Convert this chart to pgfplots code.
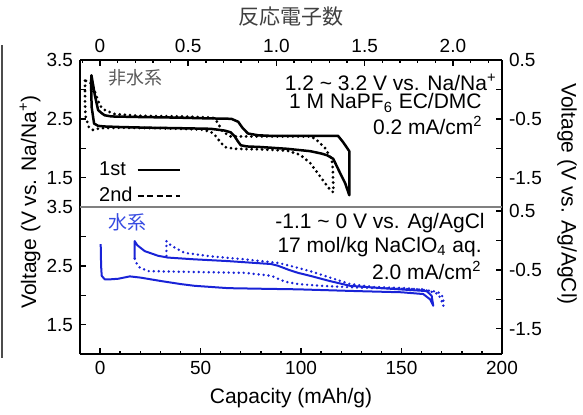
\documentclass[border=0pt]{standalone}
\usepackage{fontspec}
\setmainfont{Liberation Sans}
\newfontfamily\cjk{Noto Sans CJK JP}
\usepackage{pgfplots}
\pgfplotsset{compat=1.18}
\definecolor{cblue}{RGB}{25,35,215}
\definecolor{lblue}{RGB}{55,75,225}
\pgfplotsset{
  base/.style={scale only axis, width=211pt, height=73.5pt, xmin=-10, xmax=200,
    tick align=inside, axis line style={line width=0.9pt},
    every tick/.style={black, line width=0.7pt},
    major tick length=2.8pt, minor tick length=1.6pt,
    ticklabel style={font=\fontsize{9.5}{11}\selectfont},
    /pgf/number format/assume math mode=true},
  bsol/.style={black, line width=1.25pt, line join=round, mark=none, forget plot},
  bdot/.style={black, line width=1.55pt, line cap=round, dash pattern=on 0pt off 2.6pt, mark=none, forget plot},
  usol/.style={cblue, line width=1pt, line join=round, mark=none, forget plot},
  udot/.style={cblue, line width=1.35pt, line cap=round, dash pattern=on 0pt off 2.5pt, mark=none, forget plot},
}
\begin{document}
\begin{tikzpicture}
\path[use as bounding box] (0,0) rectangle (291.5pt,-207pt);
\draw[black!70, line width=0.6pt] (1pt,-22.5pt) -- (1pt,-179pt);

% ---------- top panel: data + left axis
\begin{axis}[base, at={(40pt,-103.5pt)}, anchor=south west,
  ymin=1, ymax=3.5, axis x line=none, axis y line*=left,
  ytick={1.5,2,2.5,3,3.5}, yticklabels={1.5,{},2.5,{},3.5},
  legend plot pos=right, legend cell align=left,
  legend image code/.code={\draw[#1] (2pt,0pt) -- (23pt,0pt);},
  legend style={draw=none, fill=none, inner sep=0pt, at={(0.035,-0.015)}, anchor=south west,
    font=\fontsize{10}{12}\selectfont, row sep=0.3pt}]
\addplot[bsol] coordinates {(-4.5,3.1) (-4.2,2.7) (-3,2.42) (-1,2.38) (2,2.37) (10,2.36) (22,2.35) (40,2.34) (55,2.33) (62,2.3) (65,2.27) (67,2.2) (68.5,2.12) (70,2.05) (73,2.03) (80,2.02) (93,1.99) (104.5,1.95) (110,1.91) (113,1.88) (116,1.82) (119.4,1.58) (122,1.4) (124,1.2)
 (124,1.95) (121,2.1) (118.4,2.21) (100,2.21) (85,2.21) (78.6,2.22) (73.6,2.25) (71,2.34) (68.7,2.45) (65.3,2.5) (50,2.51) (38.8,2.52) (20,2.53) (5.6,2.54) (2.3,2.56) (0.6,2.6) (-1,2.65) (-2.6,2.9) (-4.3,3.24) (-4.5,3.1)};
\addplot[bdot] coordinates {(-7.5,3.15) (-7.5,2.8) (-7.3,2.55) (-5.5,2.35) (-3.5,2.31) (0,2.34) (10,2.35) (30,2.34) (50,2.32) (55,2.28) (57,2.23) (59.5,2.12) (62,2.02) (67,1.99) (80,1.98) (92.9,1.96) (99.5,1.89) (104.5,1.75) (109.5,1.52) (113.6,1.33) (116,1.25)
 (116.1,1.3) (115.8,1.64) (115.3,1.81) (112,2.0) (107.8,2.14) (105,2.2) (90,2.2) (70,2.2) (65,2.2) (62,2.26) (60.7,2.3) (58.2,2.45) (56,2.52) (40,2.54) (20,2.55) (7.3,2.58) (2.3,2.65) (0,2.72) (-2,2.9) (-3.5,3.05) (-5,3.12) (-7.5,3.15)};
\addlegendimage{black, line width=1pt}
\addlegendentry{1st}
\addlegendimage{black, line width=1pt, dash pattern=on 3pt off 1.8pt}
\addlegendentry{2nd}
\end{axis}

% ---------- top panel: top axis (electrons)
\begin{axis}[base, at={(40pt,-103.5pt)}, anchor=south west,
  xmin=-0.113, xmax=2.278, ymin=0, ymax=1, axis y line=none, axis x line*=top,
  xtick={0,0.5,1,1.5,2}, xticklabels={0,0.5,1.0,1.5,2.0},
  minor xtick={-0.1,0.1,0.2,0.3,0.4,0.6,0.7,0.8,0.9,1.1,1.2,1.3,1.4,1.6,1.7,1.8,1.9,2.1,2.2},
  xlabel={\cjk 反応電子数}, xlabel style={font=\fontsize{10.5}{12}\selectfont, text=black!75}]
\end{axis}

% ---------- top panel: right axis
\begin{axis}[base, at={(40pt,-103.5pt)}, anchor=south west,
  ymin=-2, ymax=0.5, axis x line=none, axis y line*=right,
  ytick={-1.5,-1,-0.5,0,0.5}, yticklabels={-1.5,{},-0.5,{},0.5}]
\end{axis}

% ---------- bottom panel: data + left + bottom axis
\begin{axis}[base, at={(40pt,-177pt)}, anchor=south west,
  ymin=1, ymax=3.5, axis x line*=bottom, axis y line*=left,
  xtick={0,50,100,150,200}, minor x tick num=4,
  ytick={1.5,2,2.5,3,3.5}, yticklabels={1.5,{},2.5,{},3.5},
  xlabel={Capacity (mAh/g)}, xlabel style={font=\fontsize{10.5}{12}\selectfont}]
\addplot[usol] coordinates {(0.3,2.87) (0.5,2.5) (0.8,2.33) (2.3,2.27) (5,2.27) (9,2.28) (14.8,2.32) (20,2.3) (30.5,2.24) (40,2.19) (47,2.16) (63.7,2.12) (80,2.11) (98.5,2.1) (127.7,2.07) (150,2.05) (160.8,2.02) (164.2,1.93) (165.8,1.82)
 (165,1.99) (162.5,2.07) (144.3,2.11) (124.4,2.16) (114.4,2.24) (104.5,2.33) (98.5,2.38) (94,2.43) (88.6,2.5) (85.2,2.53) (63.7,2.58) (47,2.61) (33.8,2.64) (28.9,2.67) (22.2,2.75) (18.5,2.85) (17.2,2.92) (17.2,2.62)};
\addplot[udot] coordinates {(17.2,2.62) (18,2.55) (19.7,2.47) (23.9,2.41) (38.8,2.4) (72,2.38) (85.2,2.33) (92,2.23) (98.5,2.19) (110,2.16) (127.7,2.13) (160.8,2.1) (168.3,2.02) (170,1.9) (170.8,1.82)
 (170.8,1.96) (169,2.04) (165.8,2.07) (152.5,2.12) (136,2.14) (124.4,2.19) (114.4,2.3) (104.5,2.41) (94.5,2.5) (88.6,2.55) (72,2.61) (55.4,2.66) (42.1,2.72) (35.5,2.84) (33,2.92) (33,2.64)};
\end{axis}

% ---------- bottom panel: right axis
\begin{axis}[base, at={(40pt,-177pt)}, anchor=south west,
  ymin=-1.93, ymax=0.57, axis x line=none, axis y line*=right,
  ytick={-1.5,-1,-0.5,0,0.5}, yticklabels={-1.5,{},-0.5,{},0.5}]
\end{axis}

% divider
\draw[black!50, line width=1pt] (40pt,-103.5pt) -- (251pt,-103.5pt);

% axis titles
\node[rotate=90, font=\fontsize{10.5}{12}\selectfont] at (15pt,-101pt) {Voltage (V vs. Na/Na\textsuperscript{+})};
\node[rotate=-90, font=\fontsize{10.5}{12}\selectfont] at (283.5pt,-97pt) {Voltage (V vs. Ag/AgCl)};

% annotations top
\node[anchor=west, text=black!65, font=\cjk\fontsize{9}{10}\selectfont] at (50.5pt,-39pt) {非水系};
\node[anchor=east, font=\fontsize{10.5}{12}\selectfont, inner sep=0pt] at (248.5pt,-41pt) {1.2 \textasciitilde{} 3.2 V vs. Na/Na\textsuperscript{+}};
\node[anchor=east, font=\fontsize{10.5}{12}\selectfont, inner sep=0pt] at (241pt,-51.5pt) {1 M NaPF\textsubscript{6} EC/DMC};
\node[anchor=east, font=\fontsize{10.5}{12}\selectfont, inner sep=0pt] at (241.5pt,-62.5pt) {0.2 mA/cm\textsuperscript{2}};

% annotations bottom
\node[anchor=west, text=lblue, font=\cjk\fontsize{9.5}{10}\selectfont] at (50.5pt,-111pt) {水系};
\node[anchor=east, font=\fontsize{10.5}{12}\selectfont, inner sep=0pt] at (242.5pt,-111.5pt) {-1.1 \textasciitilde{} 0 V vs. Ag/AgCl};
\node[anchor=east, font=\fontsize{10.5}{12}\selectfont, inner sep=0pt] at (241pt,-123.5pt) {17 mol/kg NaClO\textsubscript{4} aq.};
\node[anchor=east, font=\fontsize{10.5}{12}\selectfont, inner sep=0pt] at (241pt,-135pt) {2.0 mA/cm\textsuperscript{2}};
\end{tikzpicture}
\end{document}
